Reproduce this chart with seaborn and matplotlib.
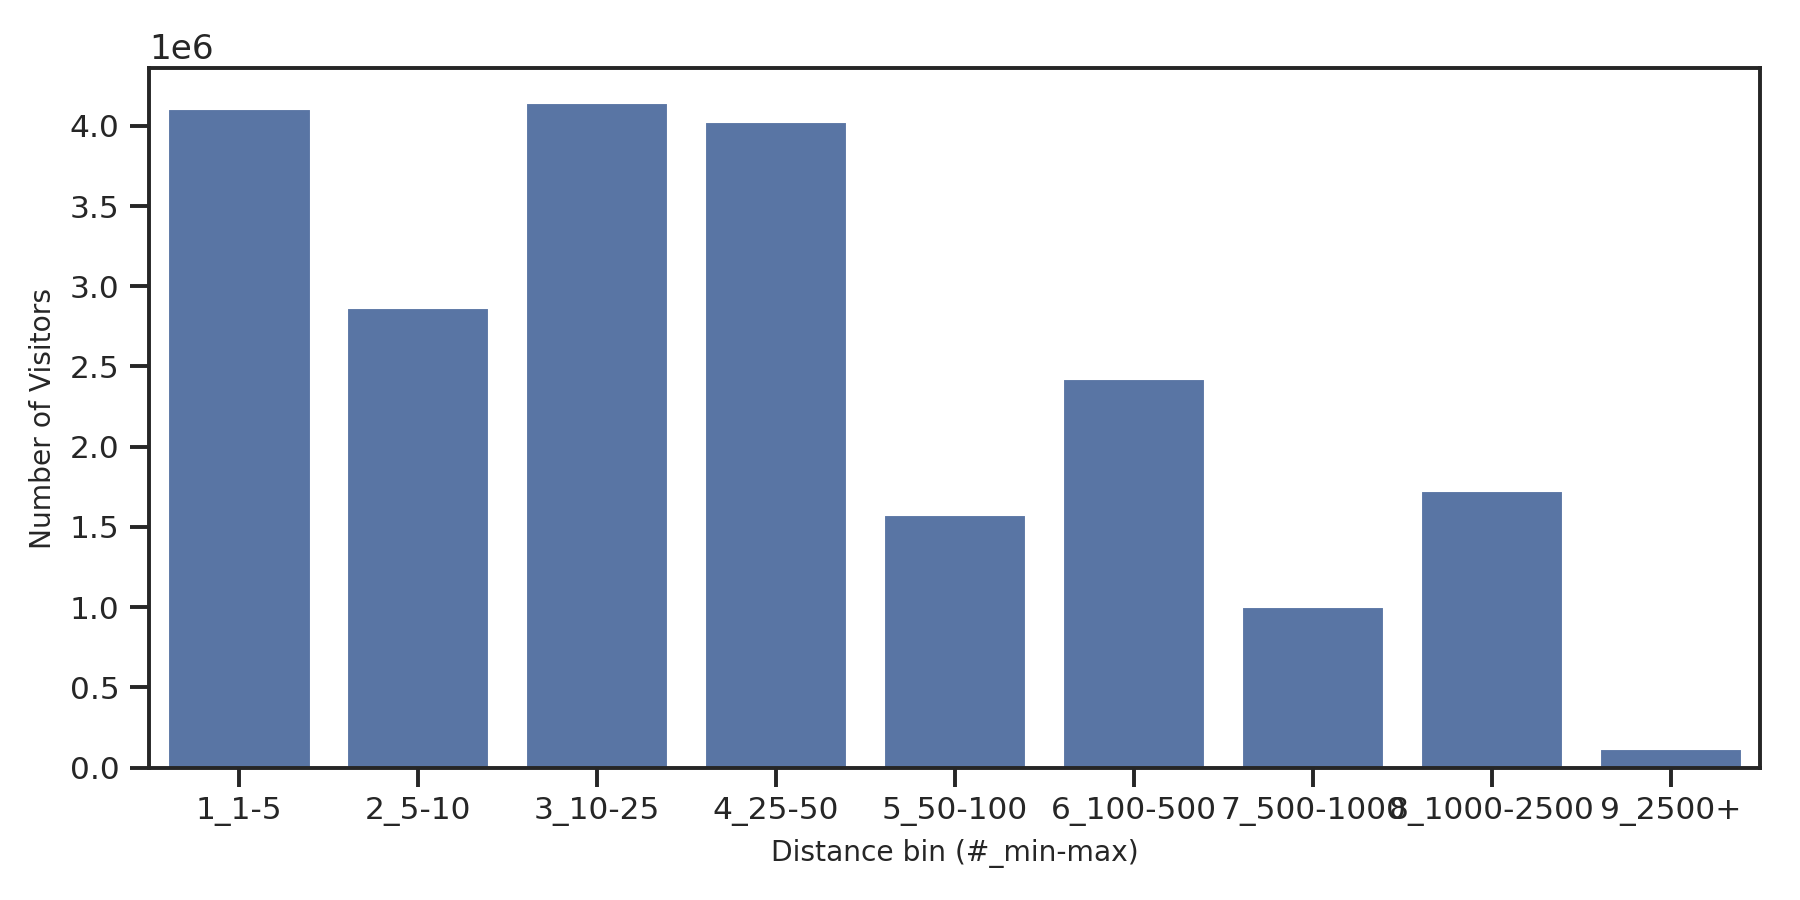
import matplotlib
matplotlib.use("Agg")
import matplotlib.pyplot as plt
import pandas as pd
import seaborn as sns

bins = ["1_1-5", "2_5-10", "3_10-25", "4_25-50", "5_50-100",
        "6_100-500", "7_500-1000", "8_1000-2500", "9_2500+"]
visitors = [4.11e6, 2.87e6, 4.15e6, 4.03e6, 1.58e6, 2.43e6, 1.01e6, 1.73e6, 0.12e6]

sns.set_theme(style="ticks", context="notebook")
df = pd.DataFrame({"bin": bins, "visitors": visitors})

fig, ax = plt.subplots(figsize=(8, 4), dpi=225)
sns.barplot(data=df, x="bin", y="visitors", color="#4c72b0", ax=ax)
ax.set_xlabel("Distance bin (#_min-max)", fontsize=9)
ax.set_ylabel("Number of Visitors", fontsize=9)
ax.tick_params(labelsize=10)
fig.subplots_adjust(left=0.083, right=0.978, top=0.924, bottom=0.147)
fig.savefig("out.png")
